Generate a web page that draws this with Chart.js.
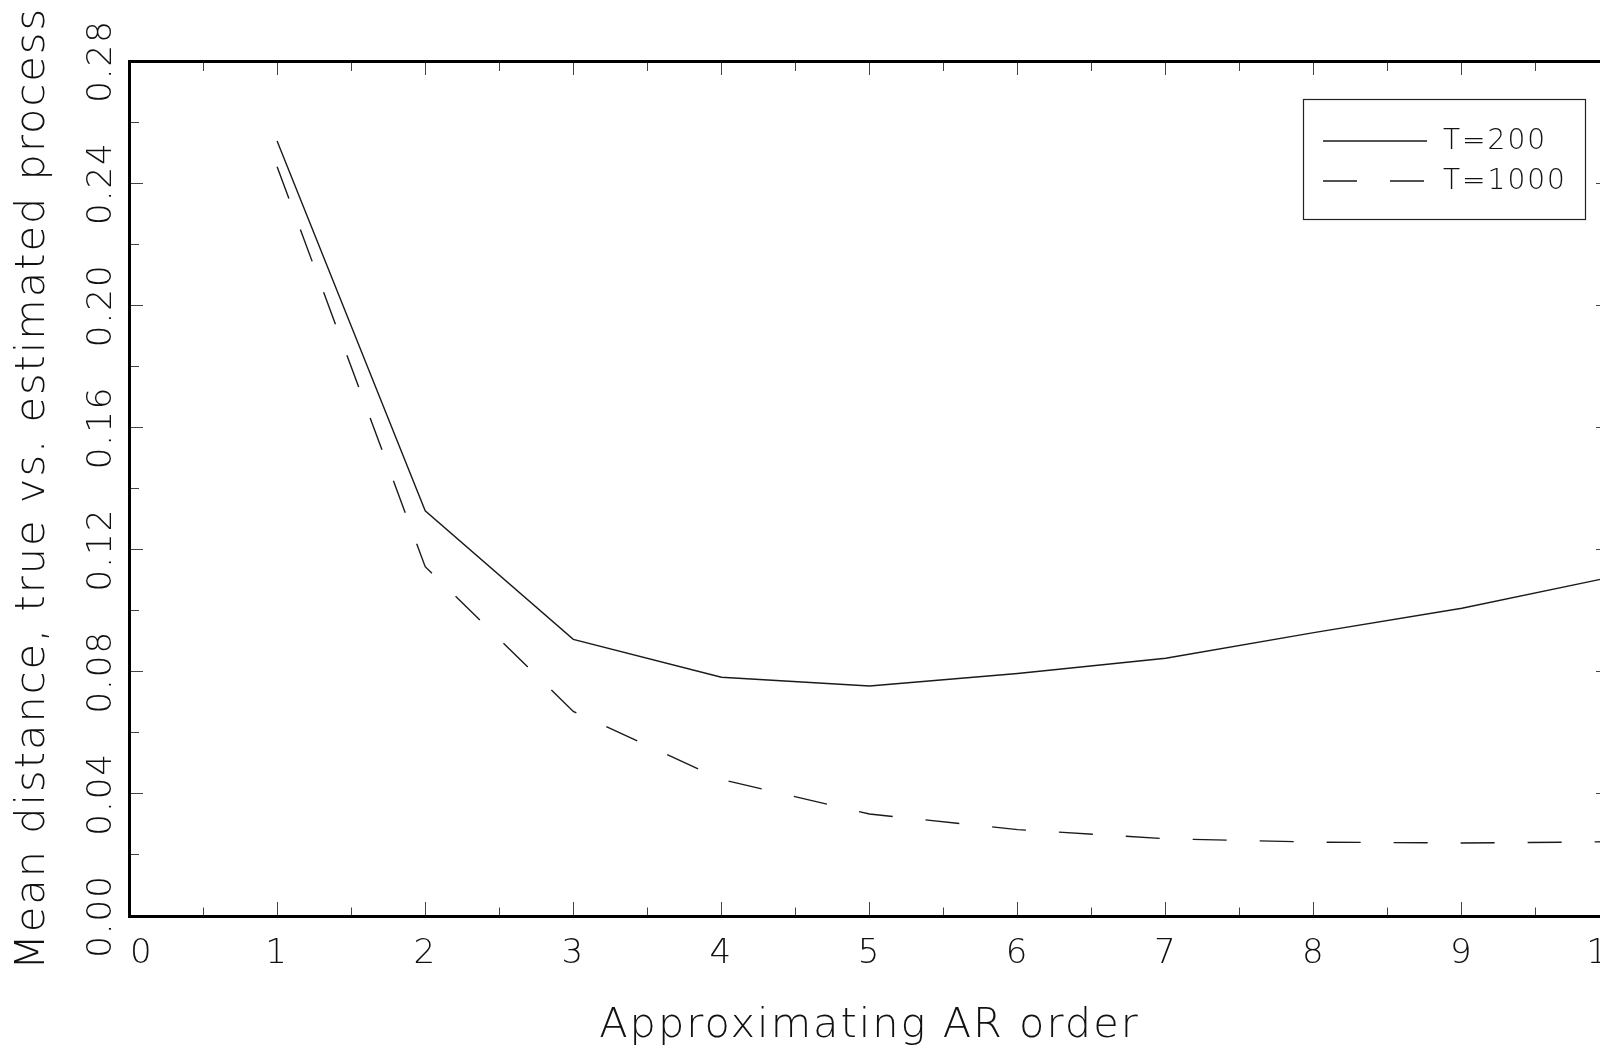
<!DOCTYPE html>
<html><head><meta charset="utf-8">
<script src="https://cdn.jsdelivr.net/npm/chart.js@4/dist/chart.umd.min.js"></script>
<style>
html,body{margin:0;padding:0;background:#fff;overflow:hidden;width:1600px;height:1054px}
#wrap{position:absolute;left:0;top:0;width:1700px;height:1054px}
canvas{display:block}
</style></head><body>
<div id="wrap"><canvas id="c" width="1700" height="1054"></canvas></div>
<script>
// ---- data ----
const arOrders = [1, 2, 3, 4, 5, 6, 7, 8, 9, 10];
const distT200 = [0.2538, 0.1327, 0.0906, 0.0782, 0.0753, 0.0794, 0.0844, 0.0928, 0.1008, 0.1109];
const distT1000 = [0.2454, 0.1144, 0.0670, 0.0447, 0.0334, 0.0283, 0.0253, 0.0242, 0.0239, 0.0243];
const seriesLabels = ['T=200', 'T=1000'];
const xTickValues = [0, 1, 2, 3, 4, 5, 6, 7, 8, 9, 10];
const yTickLabels = ['0.00', '0.04', '0.08', '0.12', '0.16', '0.20', '0.24', '0.28'];
const xTitle = 'Approximating AR order';
const yTitle = 'Mean distance, true vs. estimated process';

// ---- styles ----
const FAMILY = "'DejaVu Sans', 'Liberation Sans', sans-serif";
const INK = '#111';
const LSPACE = '2px';

function isMult(v, step) { const r = v / step; return Math.abs(r - Math.round(r)) < 1e-6; }

const toPts = arr => arr.map((y, i) => ({x: arOrders[i], y}));

// the first x label sits a little right of its tick (clear of the y labels)
function xLabel(v) {
  if (!isMult(v, 1)) return '';
  const n = Math.round(v);
  if (!xTickValues.includes(n)) return '';
  return n === xTickValues[0] ? '  ' + n : String(n);
}

const spacingPlugin = {
  id: 'spacing',
  beforeUpdate(chart) { chart.ctx.letterSpacing = LSPACE; },
  beforeDraw(chart) { chart.ctx.letterSpacing = LSPACE; }
};

const boxLegend = {
  id: 'boxLegend',
  afterDatasetsDraw(chart, args, o) {
    const ctx = chart.ctx;
    ctx.save();
    ctx.letterSpacing = LSPACE;
    ctx.strokeStyle = '#222';
    ctx.lineWidth = 1.2;
    ctx.strokeRect(o.left + 0.5, o.top + 0.5, o.width, o.height);
    chart.data.datasets.forEach((ds, i) => {
      const y = o.rowY[i];
      ctx.beginPath();
      ctx.setLineDash(ds.borderDash || []);
      ctx.lineWidth = ds.borderWidth;
      ctx.strokeStyle = ds.borderColor;
      ctx.moveTo(o.lineX0, y);
      ctx.lineTo(o.lineX1, y);
      ctx.stroke();
      ctx.setLineDash([]);
      ctx.fillStyle = INK;
      ctx.font = `200 ${o.fontSize}px ${FAMILY}`;
      ctx.textAlign = 'left';
      ctx.textBaseline = 'middle';
      ctx.fillText(ds.label, o.textX, y + 1);
    });
    ctx.restore();
  }
};

const tickFont = {family: FAMILY, size: 34, weight: '200'};
const titleFont = {family: FAMILY, size: 41.5, weight: '200'};

const chart = new Chart(document.getElementById('c'), {
  type: 'line',
  data: {
    datasets: [
      {label: seriesLabels[0], data: toPts(distT200), borderColor: '#1a1a1a', borderWidth: 1.4,
       pointRadius: 0, tension: 0, fill: false, xAxisID: 'x', yAxisID: 'y'},
      {label: seriesLabels[1], data: toPts(distT1000), borderColor: '#1a1a1a', borderWidth: 1.4,
       borderDash: [34, 33], pointRadius: 0, tension: 0, fill: false, xAxisID: 'x', yAxisID: 'y'}
    ]
  },
  options: {
    responsive: false,
    animation: false,
    events: [],
    layout: {padding: {left: 0, top: 61, right: 90, bottom: 0}},
    plugins: {
      legend: {display: false},
      tooltip: {enabled: false},
      boxLegend: {left: 1303, top: 99, width: 282, height: 120, lineX0: 1323, lineX1: 1427,
                  rowY: [141, 181], textX: 1443, fontSize: 28}
    },
    scales: {
      x: {
        type: 'linear', position: 'bottom', min: xTickValues[0], max: xTickValues[xTickValues.length - 1],
        afterFit: s => { s.height = 138; },
        ticks: {stepSize: 0.5, autoSkip: false, maxRotation: 0, padding: 32, color: INK, font: tickFont,
                callback: xLabel},
        grid: {drawOnChartArea: false, drawTicks: true, tickLength: -14, tickColor: '#444', tickWidth: 1,
               tickBorderDash: c => isMult(c.tick.value, 1) ? [] : [10.5, 100]},
        border: {display: true, color: '#000', width: 3},
        title: {display: true, text: xTitle, color: INK, font: titleFont, padding: {top: 0, bottom: 3}}
      },
      x2: {
        type: 'linear', position: 'top', min: 0, max: 10,
        afterFit: s => { s.height = 0; },
        ticks: {stepSize: 0.5, autoSkip: false, display: false},
        grid: {drawOnChartArea: false, drawTicks: true, tickLength: -14, tickColor: '#444', tickWidth: 1,
               tickBorderDash: c => isMult(c.tick.value, 1) ? [] : [100, 4],
               tickBorderDashOffset: c => isMult(c.tick.value, 1) ? 0 : 100},
        border: {display: true, color: '#000', width: 3}
      },
      y: {
        type: 'linear', position: 'left', min: 0, max: 0.28,
        afterFit: s => { s.width = 129; },
        ticks: {stepSize: 0.02, autoSkip: false, minRotation: 90, maxRotation: 90, crossAlign: 'center',
                padding: -1, color: INK, font: tickFont,
                callback: v => isMult(v, 0.04) ? yTickLabels[Math.round(v / 0.04)] : ''},
        grid: {drawOnChartArea: false, drawTicks: true, tickLength: -14, tickColor: '#444', tickWidth: 1,
               tickBorderDash: c => isMult(c.tick.value, 0.04) ? [] : [100, 4],
               tickBorderDashOffset: c => isMult(c.tick.value, 0.04) ? 0 : 100},
        border: {display: true, color: '#000', width: 3},
        title: {display: true, text: yTitle, color: INK, font: titleFont, padding: {top: 8, bottom: 0}}
      },
      y2: {
        type: 'linear', position: 'right', min: 0, max: 0.28,
        afterFit: s => { s.width = 0; },
        ticks: {stepSize: 0.02, autoSkip: false, display: false},
        grid: {drawOnChartArea: false, drawTicks: true, tickLength: -14, tickColor: '#444', tickWidth: 1,
               tickBorderDash: c => isMult(c.tick.value, 0.04) ? [] : [10.5, 100]},
        border: {display: true, color: '#000', width: 3}
      }
    }
  },
  plugins: [spacingPlugin, boxLegend]
});
</script>
</body></html>
